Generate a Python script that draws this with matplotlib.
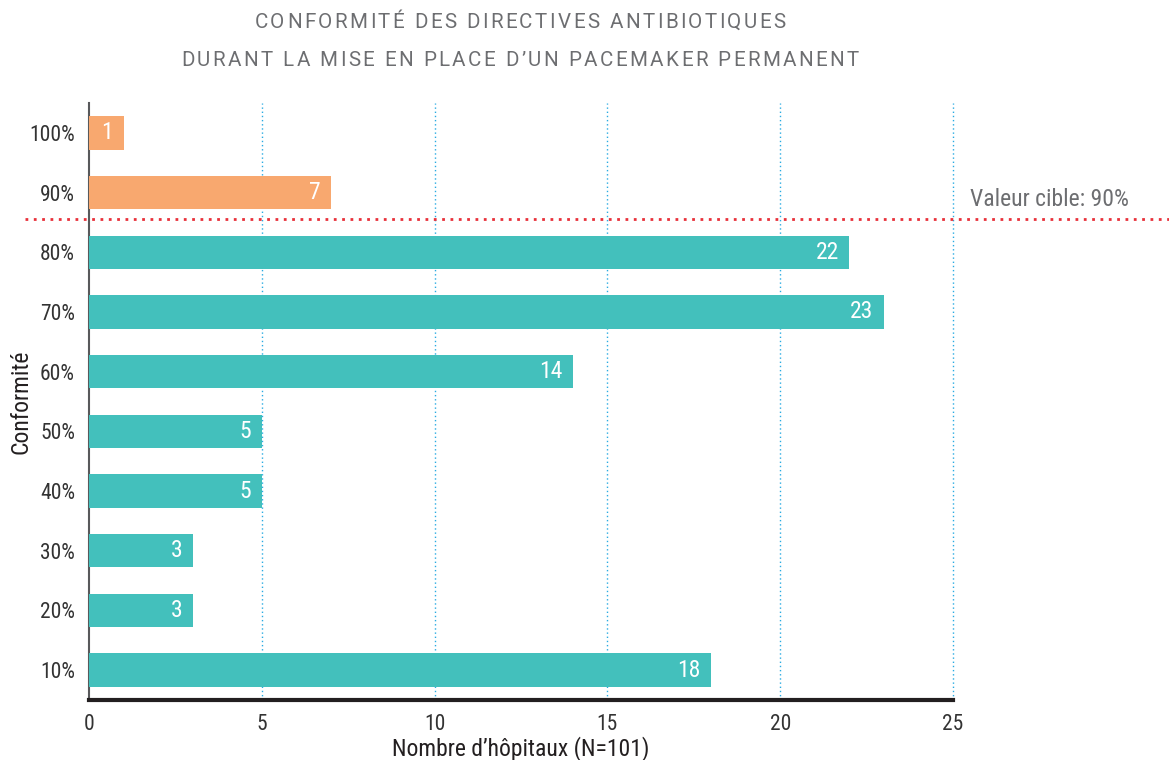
import matplotlib
matplotlib.use("Agg")
import matplotlib.pyplot as plt
from matplotlib import font_manager as fm

categories = ["10%", "20%", "30%", "40%", "50%", "60%", "70%", "80%", "90%", "100%"]
values = [18, 3, 3, 5, 5, 14, 23, 22, 7, 1]
above_target = [False, False, False, False, False, False, False, False, True, True]
xticks = [0, 5, 10, 15, 20, 25]
target_label = "Valeur cible: 90%"
title_lines = ["CONFORMITÉ DES DIRECTIVES ANTIBIOTIQUES",
               "DURANT LA MISE EN PLACE D\u2019UN PACEMAKER PERMANENT"]
xlabel = "Nombre d\u2019hôpitaux (N=101)"
ylabel = "Conformité"

names = {f.name for f in fm.fontManager.ttflist}
fam = None
for cand in ["Roboto Condensed", "Liberation Sans Narrow", "Open Sans Condensed", "Liberation Sans"]:
    if cand in names:
        fam = cand
        break
plt.rcParams['font.family'] = [fam, 'DejaVu Sans'] if fam else ['DejaVu Sans']

teal = "#43C0BC"
orange = "#F8A86F"
grid_blue = "#29ABE2"
red = "#E8303A"

W, H = 1169, 760
fig = plt.figure(figsize=(W / 100, H / 100), dpi=100)
ax = fig.add_axes([89 / W, 1 - 700 / H, (953 - 89) / W, (700 - 103) / H])

ypos = list(range(len(categories)))
colors = [orange if a else teal for a in above_target]
ax.barh(ypos, values, height=0.56, color=colors, zorder=3)
for y, v in zip(ypos, values):
    ax.text(v - 0.3, y, str(v), ha="right", va="center", color="white", fontsize=17, zorder=4)

ax.set_xlim(0, 25)
ax.set_ylim(-0.5, 9.5)
ax.set_yticks(ypos)
ax.set_yticklabels(categories)
ax.set_xticks(xticks)
ax.set_xticklabels([str(t) for t in xticks])
ax.tick_params(axis="both", length=0, labelsize=15.5, colors="#333333")
ax.tick_params(axis="x", pad=10)
ax.tick_params(axis="y", pad=10)

for x in xticks[1:]:
    ax.axvline(x, color=grid_blue, linestyle=(0, (1, 2)), linewidth=1, zorder=1, clip_on=False)

for s in ["top", "right"]:
    ax.spines[s].set_visible(False)
ax.spines["left"].set_color("#58595B")
ax.spines["left"].set_linewidth(1.5)
ax.spines["bottom"].set_color("#231F20")
ax.spines["bottom"].set_linewidth(3)
ax.spines["bottom"].set_zorder(6)

# target line (between 80% and 90%)
ty = 7.55
ax.plot([-1.85, 31.3], [ty, ty], color=red, linestyle=(0, (1, 2)), linewidth=2.0,
        clip_on=False, zorder=5)
ax.text(25.5, ty + 0.33, target_label, ha="left", va="center", fontsize=17, color="#6D6E71")

ax.set_xlabel(xlabel, fontsize=17, color="#231F20", labelpad=1)
ax.set_ylabel(ylabel, fontsize=17, color="#231F20", labelpad=-2)

title_fam = ["Roboto", "DejaVu Sans"] if "Roboto" in names else ["DejaVu Sans"]

# letter-spaced title
def tracked_text(cx, cy, s, size, color, track_px):
    r = fig.canvas.get_renderer()
    widths = []
    for ch in s:
        if ch == " ":
            t = fig.text(0, 0, "a a", fontsize=size, family=title_fam)
            t2 = fig.text(0, 0, "aa", fontsize=size, family=title_fam)
            w = t.get_window_extent(r).width - t2.get_window_extent(r).width
            t.remove(); t2.remove()
        else:
            t = fig.text(0, 0, ch, fontsize=size, family=title_fam)
            w = t.get_window_extent(r).width
            t.remove()
        widths.append(w)
    total = sum(widths) + track_px * (len(s) - 1)
    x = cx - total / 2
    for ch, w in zip(s, widths):
        if ch != " ":
            fig.text(x / W, 1 - cy / H, ch, ha="left", va="center", fontsize=size,
                     color=color, family=title_fam)
        x += w + track_px

tracked_text(520, 22, title_lines[0], 14.8, "#6D6E71", 2.4)
tracked_text(520, 60, title_lines[1], 14.8, "#6D6E71", 2.4)

fig.savefig("out.png", dpi=100)
